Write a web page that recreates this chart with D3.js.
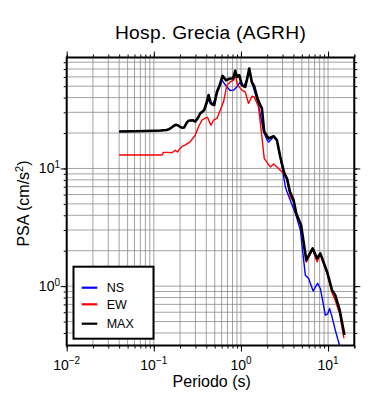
<!DOCTYPE html>
<html><head><meta charset="utf-8">
<script src="https://cdn.jsdelivr.net/npm/d3@7"></script>
<style>
body{margin:0;background:#fff}
svg{display:block;font-family:"Liberation Sans",Arial,Helvetica,sans-serif}
</style>
</head><body>
<svg id="c" width="390" height="400"></svg>
<script>
const chartTitle = "Hosp. Grecia (AGRH)";
const xTitle = "Periodo (s)";
const yTitleMain = "PSA (cm/s";
const xDomain = [0.01, 20];
const yDomain = [0.313, 87.7];
const xTickExps = [-2, -1, 0, 1];
const yTickExps = [0, 1];
const seriesNames = ["NS", "EW", "MAX"];

const nsPeriods = [0.04,0.06,0.08,0.1,0.12,0.14,0.15,0.16,0.17,0.18,0.19,0.2,0.21,0.223,0.24,0.25,0.278,0.299,0.32,0.34,0.378,0.40,0.425,0.466,0.507,0.605,0.69,0.75,0.822,0.899,0.982,1.07,1.15,1.245,1.3,1.40,1.59,1.82,2.0,2.08,2.37,2.59,2.83,3.0,3.23,3.38,4.21,4.81,5.48,5.98,6.73,7.59,8.15,9.31,9.9,10.4,11.1,12.1,13.5,14.5];
const nsValues  = [20.6,20.7,20.8,20.9,21.0,21.2,21.6,22.3,23.1,23.5,23.2,22.6,22.2,22.3,24.6,25.4,25.7,25.1,26.8,29.3,31.3,35.0,38.0,34.5,39.3,56.2,49.4,46.0,46.3,49.4,54.4,49.4,55.0,70.7,58.0,47.8,34.5,20.5,17.4,16.8,18.6,17.2,12.3,9.8,7.0,6.33,4.15,2.99,1.24,1.16,0.908,1.055,0.955,0.567,0.58,0.647,0.548,0.423,0.316,0.27];

const ewPeriods = [0.04,0.1,0.124,0.129,0.147,0.161,0.176,0.187,0.2,0.209,0.228,0.261,0.299,0.326,0.356,0.388,0.413,0.452,0.484,0.53,0.578,0.631,0.69,0.753,0.822,0.86,0.914,1.026,1.12,1.22,1.337,1.42,1.59,1.74,1.85,2.17,2.37,2.7,3.09,3.38,3.69,4.02,4.32,4.9,5.63,6.65,7.48,8.15,9.75,11.1,12.0,13.6,15.2];
const ewValues  = [13.0,13.0,13.0,13.7,13.7,13.6,14.3,13.8,14.8,15.3,15.8,16.8,19.2,22.6,25.7,26.8,27.2,23.3,25.7,26.6,31.3,36.8,51.0,54.4,56.2,62.0,51.0,46.3,44.7,35.7,41.1,40.6,33.4,18.6,12.2,10.3,10.9,10.0,9.07,8.0,5.74,5.2,4.05,3.25,1.6,2.05,1.61,1.85,1.28,0.88,0.77,0.58,0.36];

const maxPeriods = [0.04,0.06,0.08,0.1,0.12,0.14,0.15,0.16,0.17,0.18,0.19,0.2,0.21,0.223,0.24,0.25,0.278,0.299,0.32,0.34,0.378,0.40,0.425,0.452,0.493,0.53,0.57,0.615,0.673,0.753,0.815,0.859,0.899,0.955,1.026,1.12,1.18,1.245,1.337,1.42,1.55,1.667,1.74,1.85,2.08,2.37,2.59,2.83,3.15,3.38,3.65,4.02,4.32,4.9,5.63,6.65,7.48,8.15,9.75,11.1,12.1,13.6,15.4];
const maxValues  = [20.6,20.7,20.8,20.9,21.0,21.2,21.6,22.3,23.1,23.5,23.2,22.6,22.2,22.3,24.6,25.4,25.7,25.1,26.8,29.3,31.3,35.5,42.0,35.7,34.5,44.8,51.0,61.2,56.2,58.2,58.2,67.5,60.0,62.1,51.0,49.4,58.0,70.7,53.8,50.0,39.3,34.5,32.4,20.5,18.0,18.8,17.4,12.5,9.07,8.2,6.33,5.38,4.15,3.30,1.66,2.09,1.72,1.90,1.32,0.925,0.839,0.625,0.384];

const L = 66.7, R = 354.3, T = 57.5, B = 345.5;
const svg = d3.select("#c");
const x = d3.scaleLog().domain(xDomain).range([L, R]);
const y = d3.scaleLog().domain(yDomain).range([B, T]);

const xMinor = [], yMinor = [];
for (let e = -2; e <= 1; e++) for (let k = 1; k <= 9; k++) { const v = k * Math.pow(10, e); if (v >= xDomain[0] && v <= xDomain[1]) xMinor.push(v); }
xMinor.push(20);
for (let e = -1; e <= 1; e++) for (let k = 1; k <= 9; k++) { const v = k * Math.pow(10, e); if (v >= yDomain[0] && v <= yDomain[1]) yMinor.push(v); }
const xMajor = xTickExps.map(e => Math.pow(10, e));
const yMajor = yTickExps.map(e => Math.pow(10, e));

const grid = svg.append("g").attr("stroke", "#8a8a8a").attr("stroke-width", 0.8);
grid.selectAll("line.gx").data(xMinor).join("line")
  .attr("x1", d => x(d)).attr("x2", d => x(d)).attr("y1", T).attr("y2", B);
grid.selectAll("line.gy").data(yMinor).join("line")
  .attr("y1", d => y(d)).attr("y2", d => y(d)).attr("x1", L).attr("x2", R);

svg.append("clipPath").attr("id", "clip").append("rect")
  .attr("x", L).attr("y", T).attr("width", R - L).attr("height", B - T);

const line = d3.line().x(d => x(d[0])).y(d => y(d[1]));
const plot = svg.append("g").attr("clip-path", "url(#clip)");
const series = [
  {p: nsPeriods, v: nsValues, color: "#0000ff", w: 1.4},
  {p: ewPeriods, v: ewValues, color: "#ff0000", w: 1.4},
  {p: maxPeriods, v: maxValues, color: "#000000", w: 2.6}
];
series.forEach(s => {
  plot.append("path").datum(d3.zip(s.p, s.v))
    .attr("fill", "none").attr("stroke", s.color).attr("stroke-width", s.w)
    .attr("stroke-linejoin", "round").attr("d", line);
});

function ticks(axisFn, scale, vals, len, transform) {
  const g = svg.append("g").attr("transform", transform)
    .call(axisFn(scale).tickValues(vals).tickSize(len).tickFormat(""));
  g.select(".domain").remove();
  g.selectAll(".tick line").attr("stroke", "#000").attr("stroke-width", 1);
}
ticks(d3.axisBottom, x, xMinor, 3, `translate(0,${B})`);
ticks(d3.axisBottom, x, xMajor, 6, `translate(0,${B})`);
ticks(d3.axisTop, x, xMinor, 3, `translate(0,${T})`);
ticks(d3.axisTop, x, xMajor, 6, `translate(0,${T})`);
ticks(d3.axisLeft, y, yMinor, 3, `translate(${L},0)`);
ticks(d3.axisLeft, y, yMajor, 6, `translate(${L},0)`);
ticks(d3.axisRight, y, yMinor, 3, `translate(${R},0)`);
ticks(d3.axisRight, y, yMajor, 6, `translate(${R},0)`);

svg.append("rect").attr("x", L).attr("y", T).attr("width", R - L).attr("height", B - T)
  .attr("fill", "none").attr("stroke", "#000").attr("stroke-width", 2);

xTickExps.forEach(e => {
  const t = svg.append("text").attr("x", x(Math.pow(10, e))).attr("y", 369.5)
    .attr("text-anchor", "middle").attr("font-size", 14).attr("fill", "#000");
  t.append("tspan").text("10");
  t.append("tspan").attr("dy", -5.5).attr("font-size", 10).text(e < 0 ? "\u2212" + (-e) : String(e));
});
yTickExps.forEach(e => {
  const t = svg.append("text").attr("x", 60).attr("y", y(Math.pow(10, e)) + 5)
    .attr("text-anchor", "end").attr("font-size", 14).attr("fill", "#000");
  t.append("tspan").text("10");
  t.append("tspan").attr("dy", -5.5).attr("font-size", 10).text(e < 0 ? "\u2212" + (-e) : String(e));
});

svg.append("text").attr("x", (L + R) / 2).attr("y", 38.7).attr("text-anchor", "middle")
  .attr("font-size", 19.2).attr("letter-spacing", 0.3).text(chartTitle);
svg.append("text").attr("x", 211.7).attr("y", 387).attr("text-anchor", "middle")
  .attr("font-size", 16).text(xTitle);
const yt = svg.append("text").attr("transform", `translate(28.5,203.5) rotate(-90)`)
  .attr("text-anchor", "middle").attr("font-size", 16);
yt.append("tspan").text(yTitleMain);
yt.append("tspan").attr("dy", -6).attr("font-size", 11).text("2");
yt.append("tspan").attr("dy", 6).text(")");

const lg = svg.append("g");
lg.append("rect").attr("x", 73.5).attr("y", 266.7).attr("width", 80).attr("height", 72)
  .attr("fill", "#fff").attr("stroke", "#000").attr("stroke-width", 2);
const legendY = [287.7, 304.3, 323.7];
series.forEach((s, i) => {
  lg.append("line").attr("x1", 81.7).attr("x2", 97.3).attr("y1", legendY[i]).attr("y2", legendY[i])
    .attr("stroke", s.color).attr("stroke-width", 2.2);
  lg.append("text").attr("x", 106.7).attr("y", legendY[i] + 4.5).attr("font-size", 12.5)
    .text(seriesNames[i]);
});
</script>
</body></html>
